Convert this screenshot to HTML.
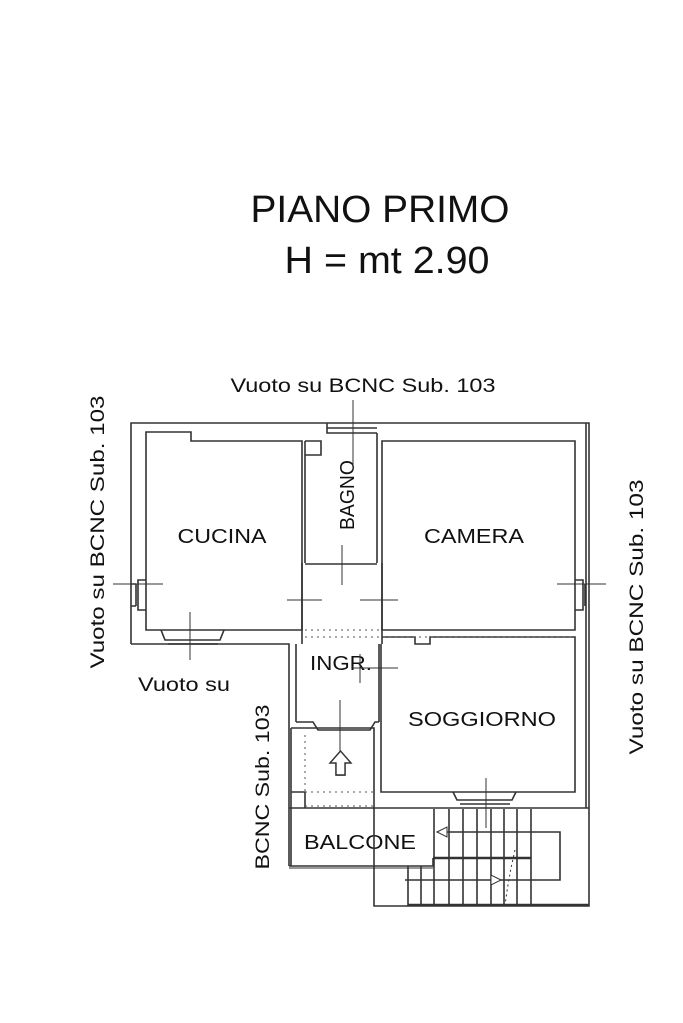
<!DOCTYPE html>
<html><head><style>html,body{margin:0;padding:0;background:#fff}svg{display:block}</style></head>
<body>
<svg width="683" height="1023" viewBox="0 0 683 1023" xmlns="http://www.w3.org/2000/svg" font-family="Liberation Sans, sans-serif" fill="#111">
<rect width="683" height="1023" fill="#fff"/>
<text x="380" y="222" font-size="38" text-anchor="middle" textLength="259" lengthAdjust="spacingAndGlyphs">PIANO PRIMO</text>
<text x="387" y="273" font-size="38" text-anchor="middle" textLength="205" lengthAdjust="spacingAndGlyphs">H = mt 2.90</text>
<text x="363" y="392" font-size="19" text-anchor="middle" textLength="265" lengthAdjust="spacingAndGlyphs">Vuoto su BCNC Sub. 103</text>
<text x="184" y="691" font-size="19" text-anchor="middle" textLength="92" lengthAdjust="spacingAndGlyphs">Vuoto su</text>
<text transform="translate(104,532) rotate(-90)" font-size="19" text-anchor="middle" textLength="273" lengthAdjust="spacingAndGlyphs">Vuoto su BCNC Sub. 103</text>
<text transform="translate(643,617) rotate(-90)" font-size="19" text-anchor="middle" textLength="275" lengthAdjust="spacingAndGlyphs">Vuoto su BCNC Sub. 103</text>
<text transform="translate(269,787) rotate(-90)" font-size="19" text-anchor="middle" textLength="165" lengthAdjust="spacingAndGlyphs">BCNC Sub. 103</text>
<text x="222" y="543" font-size="20" text-anchor="middle" textLength="89" lengthAdjust="spacingAndGlyphs">CUCINA</text>
<text x="474" y="543" font-size="20" text-anchor="middle" textLength="100" lengthAdjust="spacingAndGlyphs">CAMERA</text>
<text transform="translate(354,495) rotate(-90)" font-size="20" text-anchor="middle" textLength="70" lengthAdjust="spacingAndGlyphs">BAGNO</text>
<text x="341" y="670" font-size="20" text-anchor="middle" textLength="62" lengthAdjust="spacingAndGlyphs">INGR.</text>
<text x="482" y="726" font-size="20" text-anchor="middle" textLength="148" lengthAdjust="spacingAndGlyphs">SOGGIORNO</text>
<text x="360" y="849" font-size="20" text-anchor="middle" textLength="112" lengthAdjust="spacingAndGlyphs">BALCONE</text>
<g fill="none" stroke="#333" stroke-width="1.6">
<path d="M131 644 V423 H589 V808"/>
<path d="M586 423 V808"/>
<path d="M131 644 H289 V866"/>
<path d="M146 432 H191 V441 H302 V630 H146 Z"/>
<path d="M382 441 H575 V630 H382 Z"/>
<path d="M305 441 V563 M377 433 V563 M305 564 H377 M327 423 V433 H377 M327 428 H377"/>
<path d="M305 441 H321 V455 H305"/>
<path d="M302 563 V630 M382 563 V630 M302 630 V644 M382 630 V644"/>
<path d="M296 644 V722 M379 644 V722 M382 637 H415 V644 H430 V637 H575 V792 H381 V644"/>
<path d="M296 722 H313 L318 730 H370 L375 722 H379"/>
<path d="M291 728 H374 V808 M291 728 V866 M291 792 H305 V808"/>
<path d="M289 808 H589 M289 866 H433 V858"/>
<path d="M289 868 H433" stroke-width="1"/>
<path d="M374 808 V906 H589 V808"/>
<path d="M408 905 H589" stroke-width="2.4"/>
<path d="M433 858 H531" stroke-width="2.4"/>
<path d="M434 809 V906 M449 809 V906 M463 809 V906 M477 809 V906 M491 809 V906 M504 809 V906 M517 809 V906 M531 809 V906 M408 866 V906 M421 866 V906"/>
<path d="M437 832 H560 V880 H405"/>
<path d="M453 792 L457 800 H512 L516 792 M460 804 H510"/>
<path d="M161 630 L165 640 H220 L224 630 M168 644 H218"/>
<path d="M146 580 H138 V610 H146 M136 584 V606 M131 584 H136 M131 606 H136"/>
<path d="M575 580 H583 V610 H575 M585 584 V606"/>
</g>
<g fill="none" stroke="#555" stroke-width="1" stroke-dasharray="2 4">
<path d="M305 630 H379 M305 637 H575 M305 735 V792 M305 792 H374 M305 806 H374"/>
</g>
<g fill="none" stroke="#333" stroke-width="1">
<path d="M113 584 H163 M190 612 V660 M287 600 H322 M360 600 H398 M342 545 V585 M353 400 V470 M557 584 H606"/>
<path d="M360 654 V683 M352 668 H398 M340 700 V752 M486 778 V828"/>
</g>
<g fill="#fff" stroke="#333" stroke-width="1.4">
<path d="M336 762 H345 V775 H336 Z"/>
<path d="M330 763 L340.5 751 L351 763 H345 V775 H336 V763 Z"/>
</g>
<g fill="none" stroke="#333" stroke-width="1">
<path d="M437 832 L447 827 V837 Z M501 880 L491 875 V885 Z" fill="#fff"/>
<path d="M515 850 Q508 880 505 906" stroke-dasharray="2 3"/>
</g>
</svg>
</body></html>
